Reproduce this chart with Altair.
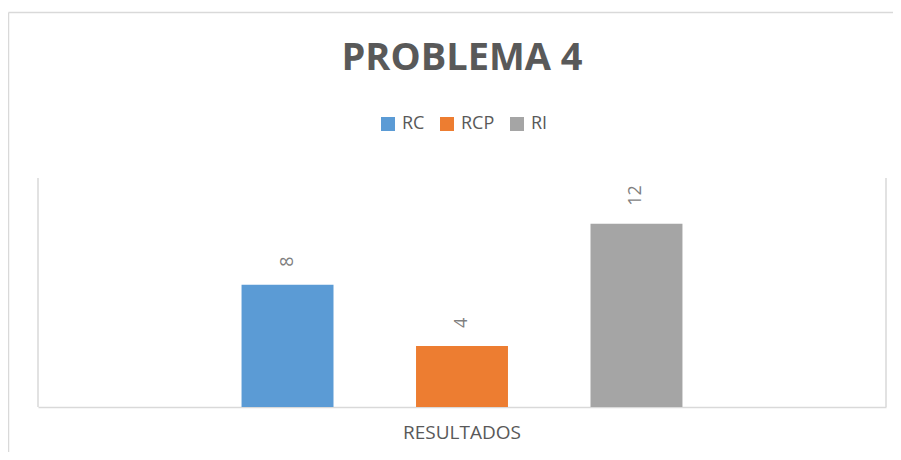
import altair as alt
import pandas as pd

categoria = ["RESULTADOS"]
series = ["RC", "RCP", "RI"]
valores = [8, 4, 12]
colores = ["#5b9bd5", "#ed7d31", "#a5a5a5"]

df = pd.DataFrame({
    "categoria": categoria * len(series),
    "serie": series,
    "valor": valores,
})

W, H = 848, 229
FONT = "Open Sans"
GRAY = "#595959"
LINE = "#d9d9d9"

x_enc = alt.X("categoria:N",
              scale=alt.Scale(paddingInner=0, paddingOuter=0.189),
              axis=alt.Axis(title=None, labelAngle=0, ticks=False, domainColor=LINE,
                            domainWidth=1.5, labelFont=FONT, labelFontSize=19,
                            labelColor=GRAY, labelPadding=16))
xo_enc = alt.XOffset("serie:N", sort=series,
                     scale=alt.Scale(domain=series, paddingInner=0.473, paddingOuter=0.5))
y_enc = alt.Y("valor:Q", scale=alt.Scale(domain=[0, 15]), axis=None)

base = alt.Chart(df)

bars = base.mark_bar().encode(
    x=x_enc, xOffset=xo_enc, y=y_enc,
    color=alt.Color("serie:N", sort=series,
                    scale=alt.Scale(domain=series, range=colores),
                    legend=alt.Legend(title=None, orient="none", legendX=341, legendY=-63,
                                      direction="horizontal", symbolType="square",
                                      symbolSize=196, symbolStrokeWidth=0,
                                      labelFont=FONT, labelFontSize=18, labelColor=GRAY,
                                      labelOffset=5, columnPadding=13)),
)

labels = base.mark_text(angle=270, align="left", baseline="middle", dx=18,
                        font=FONT, fontSize=18, color="#7f7f7f").encode(
    x=x_enc, xOffset=xo_enc, y=y_enc, text="valor:Q"
)

one = pd.DataFrame({"k": [0]})
left_rule = alt.Chart(one).mark_rule(color=LINE, strokeWidth=1.5).encode(
    x=alt.value(0), y=alt.value(0), y2=alt.value(H))
right_rule = alt.Chart(one).mark_rule(color=LINE, strokeWidth=1.5).encode(
    x=alt.value(W), y=alt.value(0), y2=alt.value(H))
outer_left = alt.Chart(one).mark_rule(color=LINE, strokeWidth=1.5).encode(
    x=alt.value(-29.5), y=alt.value(-165.5), y2=alt.value(H + 50))
outer_top = alt.Chart(one).mark_rule(color=LINE, strokeWidth=1.5).encode(
    x=alt.value(-29.5), x2=alt.value(W + 20), y=alt.value(-165.5))

chart = alt.layer(left_rule, right_rule, outer_left, outer_top, bars, labels).properties(
    width=W, height=H,
    title=alt.TitleParams("PROBLEMA 4", font=FONT, fontSize=38, fontWeight="bold",
                          color=GRAY, anchor="middle", baseline="alphabetic", offset=-96),
    autosize=alt.AutoSizeParams(type="none"),
    padding={"left": 30, "top": 170, "right": 7, "bottom": 45},
).configure_view(stroke=None)

chart.save("out.html", embed_options={"renderer": "svg", "actions": False})
